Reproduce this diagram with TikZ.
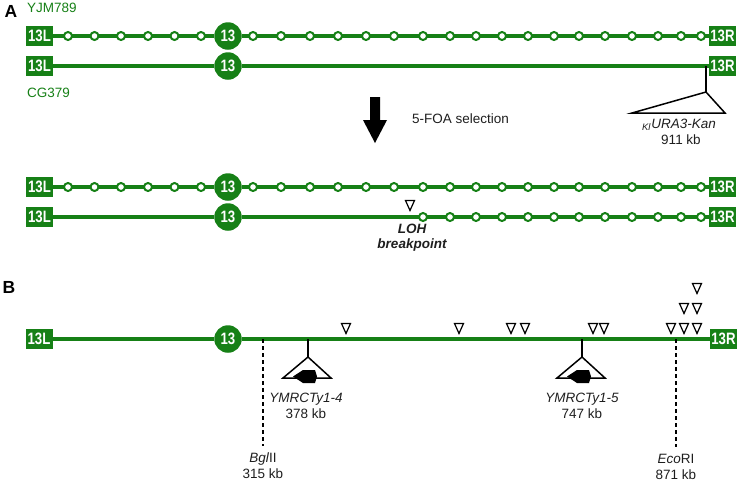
\documentclass[tikz,border=0pt]{standalone}
\usepackage{fontspec}
\setmainfont{Liberation Sans}
\setsansfont{Liberation Sans}
\newfontfamily\boxfont{Liberation Sans}[FakeStretch=0.8]
\definecolor{chrgreen}{RGB}{22,128,22}
\definecolor{txtgray}{RGB}{30,30,30}
\begin{document}
\begin{tikzpicture}[x=1pt,y=-1pt,
  chr/.style={line width=3.4pt, draw=chrgreen},
  endbox/.style={fill=chrgreen, text=white, font={\boxfont\bfseries\fontsize{16.5}{16.5}\selectfont},
    minimum width=27pt, minimum height=19.5pt, inner sep=0pt},
  cenbox/.style={circle, fill=chrgreen, text=white, font={\boxfont\bfseries\fontsize{16.5}{16.5}\selectfont},
    minimum size=27.5pt, inner sep=0pt},
  snp/.style={circle, draw=chrgreen, fill=white, line width=2pt, minimum size=8pt, inner sep=0pt},
  strain/.style={text=chrgreen, font={\fontsize{13.5}{15}\selectfont}, inner sep=0pt},
  lbl/.style={text=txtgray, font={\fontsize{13.5}{16}\selectfont}, align=center, inner sep=0pt},
  panel/.style={font={\bfseries\fontsize{17.5}{17.5}\selectfont}, inner sep=0pt},
  ins/.style={line width=1.5pt, draw=black},
  cut/.style={line width=1.1pt, draw=black, dash pattern=on 4pt off 3pt},
  opentri/.pic={\draw[line width=1.2pt, fill=white] (-4.5,0) -- (4.5,0) -- (0,10) -- cycle;},
  tyarrow/.pic={\fill[black] (-15,19.5) -- (-5,13) -- (7,13) -- (9,19.5) -- (7,26) -- (-5,26) -- cycle;}
]
\useasboundingbox (0,0) rectangle (740,483);

% ---------------- Panel A ----------------
\node[panel] (pA) at (11,11) {A};
\node[strain, anchor=west] (yjm) at (27,8) {YJM789};
\node[strain, anchor=west] (cg) at (27,93) {CG379};

% row 1
\node[endbox] (L1) at (39.5,36) {13L};
\node[cenbox] (C1) at (228,36) {13};
\node[endbox] (R1) at (722.5,36) {13R};
\draw[chr] (L1) -- (C1) -- (R1);
\foreach \x [count=\i] in {68,94.5,121,148,174.5,201,253,281,310,338,366,394,423,450,476,502,528,554,579,605,632,658,681,701}
  \node[snp] (a\i) at (\x,36) {};

% row 2
\node[endbox] (L2) at (39.5,66) {13L};
\node[cenbox] (C2) at (228,66) {13};
\node[endbox] (R2) at (722.5,66) {13R};
\draw[chr] (L2) -- (C2) -- (R2);
\coordinate (kin) at (706,66);
\coordinate (kapex) at (706,92);
\draw[ins] (kin) -- (kapex);
\draw[ins, fill=white, line join=miter] (kapex) -- (632,113) -- (725,113) -- cycle;
\node[lbl] (ura) at (679,125) {\textsubscript{\textit{Kl}}\textit{URA3-Kan}};
\node[lbl] (kb911) at (681,140) {911 kb};

% selection arrow
\fill[black] (370,97) -- (380,97) -- (380,120) -- (387,120) -- (375,143) -- (363,120) -- (370,120) -- cycle;
\node[lbl, anchor=west] (foa) at (412,119) {5-FOA selection};

% row 3
\node[endbox] (L3) at (39.5,187) {13L};
\node[cenbox] (C3) at (228,187) {13};
\node[endbox] (R3) at (722.5,187) {13R};
\draw[chr] (L3) -- (C3) -- (R3);
\foreach \x [count=\i] in {68,94.5,121,148,174.5,201,253,281,310,338,366,394,423,450,476,502,528,554,579,605,632,658,681,701}
  \node[snp] (b\i) at (\x,187) {};

% row 4
\node[endbox] (L4) at (39.5,217) {13L};
\node[cenbox] (C4) at (228,217) {13};
\node[endbox] (R4) at (722.5,217) {13R};
\draw[chr] (L4) -- (C4) -- (R4);
\foreach \x [count=\i] in {423,450,476,502,528,554,579,605,632,658,681,701}
  \node[snp] (c\i) at (\x,217) {};
\pic (lohtri) at (410,200.5) {opentri};
\node[lbl, font={\bfseries\itshape\fontsize{13.5}{15}\selectfont}] (loh) at (412,238) {LOH\\breakpoint};

% ---------------- Panel B ----------------
\node[panel] (pB) at (9,287) {B};
\node[endbox] (L5) at (39,339) {13L};
\node[cenbox] (C5) at (228,339) {13};
\node[endbox] (R5) at (723.5,339) {13R};
\draw[chr] (L5) -- (C5) -- (R5);

% restriction sites
\coordinate (bglon) at (263,339);
\node[lbl, anchor=north] (bgl) at (263,453) {\textit{Bgl}II\\315 kb};
\draw[cut, shorten >=7pt] (bglon) -- (bgl.north);
\coordinate (ecoon) at (676,339);
\node[lbl, anchor=north] (eco) at (676,454) {\textit{Eco}RI\\871 kb};
\draw[cut, shorten >=7pt] (ecoon) -- (eco.north);

% Ty1 insertions
\coordinate (ty4on) at (308,339);
\coordinate (ty4ap) at (308,357);
\draw[ins] (ty4on) -- (ty4ap);
\draw[ins, fill=white, line join=miter] (ty4ap) -- (283,378) -- (331,378) -- cycle;
\pic (ty4arr) at (308,357) {tyarrow};
\node[lbl] (ty4) at (306,406) {\textit{YMRCTy1-4}\\378 kb};

\coordinate (ty5on) at (582,339);
\coordinate (ty5ap) at (582,357);
\draw[ins] (ty5on) -- (ty5ap);
\draw[ins, fill=white, line join=miter] (ty5ap) -- (557,378) -- (605,378) -- cycle;
\pic (ty5arr) at (582,357) {tyarrow};
\node[lbl] (ty5) at (582,406) {\textit{YMRCTy1-5}\\747 kb};

% SNP breakpoints
\foreach \x [count=\i] in {346,459,511,525,593,604,671,684,697}
  \pic (r1t\i) at (\x,323.5) {opentri};
\foreach \x [count=\i] in {684,697}
  \pic (r2t\i) at (\x,303.5) {opentri};
\pic (r3t1) at (697,283.5) {opentri};
\end{tikzpicture}
\end{document}
